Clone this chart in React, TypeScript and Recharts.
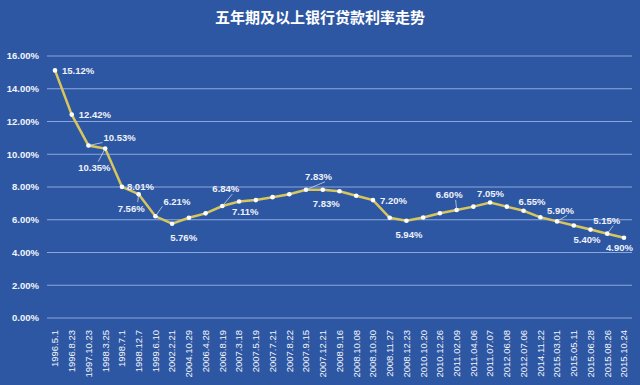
import React from 'react';
import {
  LineChart,
  Line,
  XAxis,
  YAxis,
  CartesianGrid,
  LabelList,
} from 'recharts';

const dates = [
  '1996.5.1', '1996.8.23', '1997.10.23', '1998.3.25', '1998.7.1', '1998.12.7',
  '1999.6.10', '2002.2.21', '2004.10.29', '2006.4.28', '2006.8.19', '2007.3.18',
  '2007.5.19', '2007.7.21', '2007.8.22', '2007.9.15', '2007.12.21', '2008.9.16',
  '2008.10.08', '2008.10.30', '2008.11.27', '2008.12.23', '2010.10.20', '2010.12.26',
  '2011.02.09', '2011.04.06', '2011.07.07', '2012.06.08', '2012.07.06', '2014.11.22',
  '2015.03.01', '2015.05.11', '2015.06.28', '2015.08.26', '2015.10.24',
];

const rates = [
  15.12, 12.42, 10.53, 10.35, 8.01, 7.56,
  6.21, 5.76, 6.12, 6.39, 6.84, 7.11,
  7.2, 7.38, 7.56, 7.83, 7.83, 7.74,
  7.47, 7.2, 6.12, 5.94, 6.14, 6.4,
  6.6, 6.8, 7.05, 6.8, 6.55, 6.15,
  5.9, 5.65, 5.4, 5.15, 4.9,
];

const yTicks = [0, 2, 4, 6, 8, 10, 12, 14, 16];

// which points carry a label, and where the text sits relative to the point
// [dx, dy, leader line]
const labelPlace: Record<number, [number, number, boolean]> = {
  0: [7, 0, false],
  1: [7, 0, false],
  2: [15, -8, true],
  3: [-27, 19, true],
  4: [5, 0, false],
  5: [-21, 14, true],
  6: [8, -15, true],
  7: [-2, 14, false],
  10: [-10, -17, true],
  11: [-7, 10, false],
  15: [-1, -13, true],
  16: [-10, 14, false],
  19: [7, 1, false],
  21: [-11, 14, false],
  24: [-21, -15, true],
  26: [-13, -9, false],
  28: [-5, -9, false],
  30: [-10, -11, true],
  32: [-17, 10, false],
  33: [-14, -13, true],
  34: [-18, 10, false],
};

const BG = '#2E57A3';
const FONT = '"Liberation Sans", Arial, sans-serif';

const data = dates.map((d, i) => ({ date: d, rate: rates[i] }));

function PointLabel(props: any) {
  const { x, y, value, index } = props;
  const place = labelPlace[index];
  if (!place) return null;
  const [dx, dy, leader] = place;
  const tx = x + dx;
  const ty = y + dy;
  // leader goes from the point toward the nearest corner of the text
  const lx = dx >= 0 ? tx - 1 : tx + 20;
  const ly = dy < 0 ? ty + 5 : ty - 6;
  return (
    <g>
      {leader && (
        <line x1={x} y1={y} x2={lx} y2={ly} stroke="#DDE6F5" strokeWidth={0.7} />
      )}
      <text
        x={tx}
        y={ty}
        dy="0.35em"
        fill="#EEF2FA"
        fontSize={9.5}
        fontWeight="bold"
        fontFamily={FONT}
      >
        {Number(value).toFixed(2)}%
      </text>
    </g>
  );
}

function DateTick(props: any) {
  const { x, y, payload } = props;
  return (
    <g transform={`translate(${x},${y})`}>
      <text
        transform="rotate(-90)"
        x={-4}
        y={0}
        dy="0.35em"
        textAnchor="end"
        fill="#F2F5FB"
        fontSize={9.5}
        fontFamily={FONT}
      >
        {payload.value}
      </text>
    </g>
  );
}

export default function App() {
  return (
    <div
      style={{
        position: 'absolute',
        left: 0,
        top: 0,
        width: 640,
        height: 385,
        background: BG,
      }}
    >
      <div
        style={{
          position: 'absolute',
          top: 6,
          left: 0,
          width: 640,
          textAlign: 'center',
          color: '#FFFFFF',
          fontSize: 15,
          fontWeight: 'bold',
          fontFamily: '"Noto Sans CJK SC", sans-serif',
          lineHeight: '22px',
        }}
      >
        五年期及以上银行贷款利率走势
      </div>
      <LineChart
        width={640}
        height={385}
        data={data}
        margin={{ top: 56, right: 8, left: 0, bottom: 0 }}
      >
        <CartesianGrid vertical={false} stroke="#8AA8DE" strokeWidth={1} />
        <XAxis
          dataKey="date"
          interval={0}
          height={67}
          axisLine={false}
          tickLine={false}
          padding={{ left: 8, right: 8 }}
          tick={<DateTick />}
        />
        <YAxis
          width={47}
          domain={[0, 16]}
          ticks={yTicks}
          axisLine={false}
          tickLine={false}
          tickSize={0}
          tickMargin={8}
          tickFormatter={(v: number) => `${v.toFixed(2)}%`}
          tick={{ fill: '#F2F5FB', fontSize: 9.5, fontWeight: 'bold', fontFamily: FONT }}
        />
        <Line
          type="linear"
          dataKey="rate"
          stroke="#D8C65C"
          strokeWidth={2.5}
          dot={{ r: 2.3, fill: '#FFFFFF', stroke: 'none' }}
          activeDot={false}
          isAnimationActive={false}
        >
          <LabelList dataKey="rate" content={<PointLabel />} />
        </Line>
      </LineChart>
    </div>
  );
}
